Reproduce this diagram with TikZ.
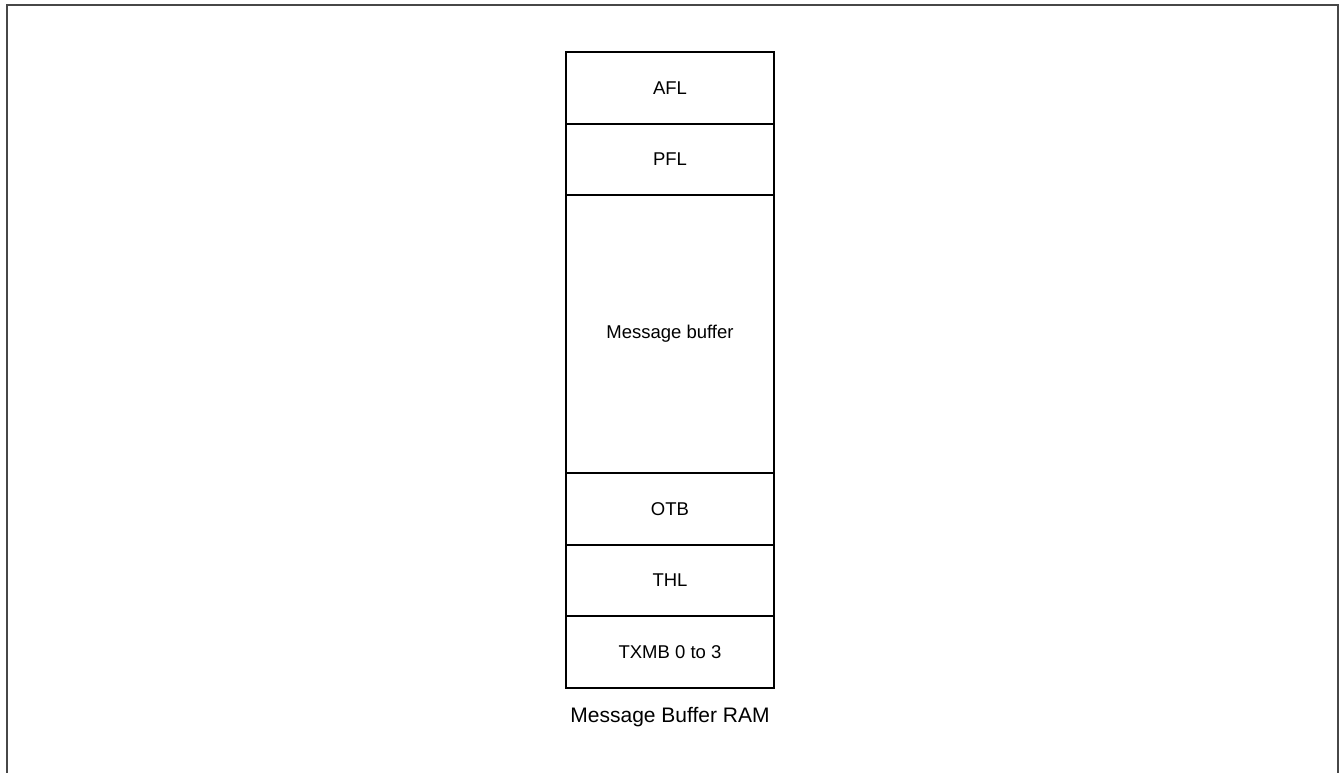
\documentclass[tikz,border=0pt]{standalone}
\usepackage{fontspec}
\setmainfont{Liberation Sans}
\begin{document}
\begin{tikzpicture}[x=1pt,y=-1pt,
  seg/.style={draw=black, line width=1.5pt, minimum width=208pt, inner sep=0pt, outer sep=0pt, anchor=north, font=\fontsize{18.5}{22}\selectfont},
  frame/.style={draw=black!72, line width=2pt},
  caption/.style={font=\fontsize{21}{24}\selectfont, inner sep=0pt}]
\useasboundingbox (0,0) rectangle (1341,773);
\draw[frame] (7,773) -- (7,5) -- (1338,5) -- (1338,773);
\node[seg, minimum height=72pt] (afl) at (670,52) {AFL};
\node[seg, minimum height=71pt] (pfl) at (afl.south) {PFL};
\node[seg, minimum height=278pt] (mb) at (pfl.south) {Message buffer};
\node[seg, minimum height=72pt] (otb) at (mb.south) {OTB};
\node[seg, minimum height=71pt] (thl) at (otb.south) {THL};
\node[seg, minimum height=72pt] (txmb) at (thl.south) {TXMB 0 to 3};
\node[caption] (cap) at (670,717) {Message Buffer RAM};
\end{tikzpicture}
\end{document}
